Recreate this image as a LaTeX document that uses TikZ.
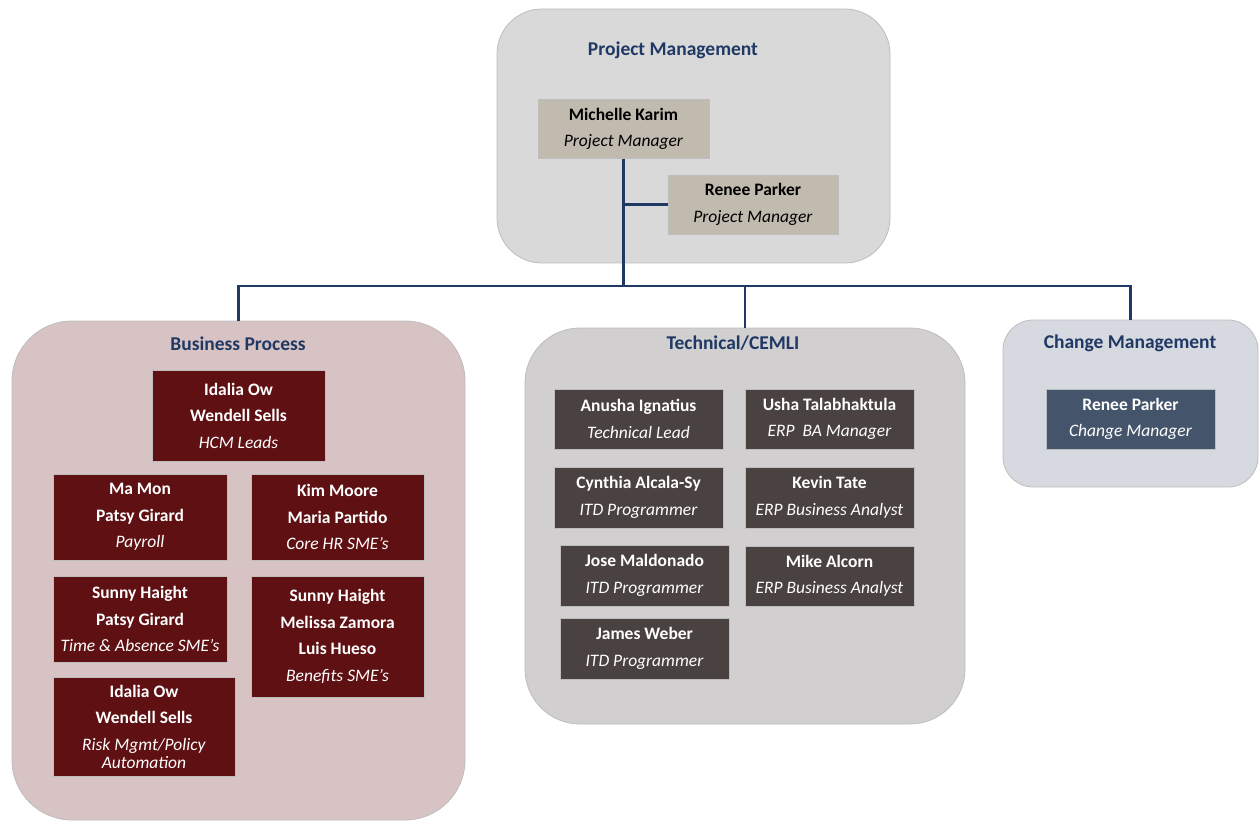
\documentclass[tikz,border=0pt]{standalone}
\usepackage{fontspec}
\setmainfont{Carlito}

%%% Colori
\definecolor{navy}{HTML}{1F3864}
\definecolor{edgegray}{HTML}{BDBDBD}
\definecolor{pmfill}{HTML}{D9D9D9}
\definecolor{pmcard}{HTML}{C1BAAF}
\definecolor{bpfill}{HTML}{D8C3C4}
\definecolor{bpcard}{HTML}{5F1013}
\definecolor{techfill}{HTML}{D1CFCF}
\definecolor{techcard}{HTML}{4A4141}
\definecolor{cmfill}{HTML}{D6D9DF}
\definecolor{cmcard}{HTML}{44546A}

\tikzset{
	team/.style={draw=edgegray, line width=.8pt, inner sep=0pt, rounded corners=#1},
	teamtitle/.style={text=navy, font=\fontsize{19.5}{22}\selectfont\bfseries},
	card/.style={draw=edgegray, line width=.6pt, inner sep=0pt, align=center,
		font=\fontsize{17.5}{26.5}\selectfont},
	pmcard/.style={card, fill=pmcard, text=black},
	bpcard/.style={card, fill=bpcard, text=white},
	techcard/.style={card, fill=techcard, text=white},
	cmcard/.style={card, fill=cmcard, text=white},
	link/.style={draw=navy, line width=2.6pt},
}

\begin{document}
\begin{tikzpicture}[x=1pt, y=-1pt]
		\useasboundingbox (0,0) rectangle (1259,821);
		
		%%% Gruppi
		\node[team=45pt, fill=pmfill, minimum width=393, minimum height=254] (pmgrp) at (693.5,136) {};
		\node[team=60pt, fill=bpfill, minimum width=453, minimum height=499] (bpgrp) at (238.5,570.5) {};
		\node[team=55pt, fill=techfill, minimum width=440, minimum height=396] (techgrp) at (745,526) {};
		\node[team=30pt, fill=cmfill, minimum width=255, minimum height=167] (cmgrp) at (1130.5,403.5) {};
		
		\node[teamtitle] (pmtitle) at (673,50.5) {Project Management};
		\node[teamtitle] (bptitle) at (238,344) {Business Process};
		\node[teamtitle] (techtitle) at (733,343) {Technical/CEMLI};
		\node[teamtitle] (cmtitle) at (1130,343.5) {Change Management};
		
		%%% Project Management
		\node[pmcard, minimum width=171, minimum height=59] (karim) at (623.5,129)
			{\textbf{Michelle Karim}\\\textit{Project Manager}};
		\node[pmcard, minimum width=170, minimum height=59] (parker) at (753,204.5)
			{\textbf{Renee Parker}\\\textit{Project Manager}};
		
		%%% Business Process
		\node[bpcard, minimum width=173, minimum height=91] (hcm) at (238.5,415.5)
			{\textbf{Idalia Ow}\\\textbf{Wendell Sells}\\\textit{HCM Leads}};
		\node[bpcard, minimum width=174, minimum height=86] (payroll) at (140,517)
			{\textbf{Ma Mon}\\\textbf{Patsy Girard}\\\textit{Payroll}};
		\node[bpcard, minimum width=173, minimum height=86] (corehr) at (337.5,517)
			{\textbf{Kim Moore}\\\textbf{Maria Partido}\\\textit{Core HR SME’s}};
		\node[bpcard, minimum width=174, minimum height=86] (absence) at (140,619)
			{\textbf{Sunny Haight}\\\textbf{Patsy Girard}\\\textit{Time \& Absence SME’s}};
		\node[bpcard, minimum width=173, minimum height=121] (benefits) at (337.5,636.5)
			{\textbf{Sunny Haight}\\\textbf{Melissa Zamora}\\\textbf{Luis Hueso}\\\textit{Benefits SME’s}};
		\node[bpcard, minimum width=182, minimum height=99] (risk) at (144,726.5)
			{\textbf{Idalia Ow}\\\textbf{Wendell Sells}\\\textit{Risk Mgmt/Policy}\\[-8.5pt]\textit{Automation}};
		
		%%% Technical/CEMLI
		\node[techcard, minimum width=169, minimum height=60] (anusha) at (638.5,419)
			{\textbf{Anusha Ignatius}\\\textit{Technical Lead}};
		\node[techcard, minimum width=169, minimum height=60] (usha) at (829.5,419)
			{\textbf{Usha Talabhaktula}\\\textit{ERP\ \ BA Manager}};
		\node[techcard, minimum width=169, minimum height=61] (cynthia) at (638.5,497.5)
			{\textbf{Cynthia Alcala-Sy}\\\textit{ITD Programmer}};
		\node[techcard, minimum width=169, minimum height=61] (kevin) at (829.5,497.5)
			{\textbf{Kevin Tate}\\\textit{ERP Business Analyst}};
		\node[techcard, minimum width=169, minimum height=61] (jose) at (644.5,575.5)
			{\textbf{Jose Maldonado}\\\textit{ITD Programmer}};
		\node[techcard, minimum width=169, minimum height=60] (mike) at (829.5,576)
			{\textbf{Mike Alcorn}\\\textit{ERP Business Analyst}};
		\node[techcard, minimum width=169, minimum height=61] (james) at (644.5,648.5)
			{\textbf{James Weber}\\\textit{ITD Programmer}};
		
		%%% Change Management
		\node[cmcard, minimum width=169, minimum height=60] (cmparker) at (1130.5,419)
			{\textbf{Renee Parker}\\\textit{Change Manager}};
		
		%%% Collegamenti
		\coordinate (bus) at (623.5,286);
		\draw[link] (karim.south) -- (bus);
		\draw[link] (parker.west) -- (parker.west -| karim.south);
		\draw[link] (bpgrp.north) |- (bus) -| (cmgrp.north);
		\draw[link] (techgrp.north) -- (techgrp.north |- bus);
	\end{tikzpicture}
\end{document}
